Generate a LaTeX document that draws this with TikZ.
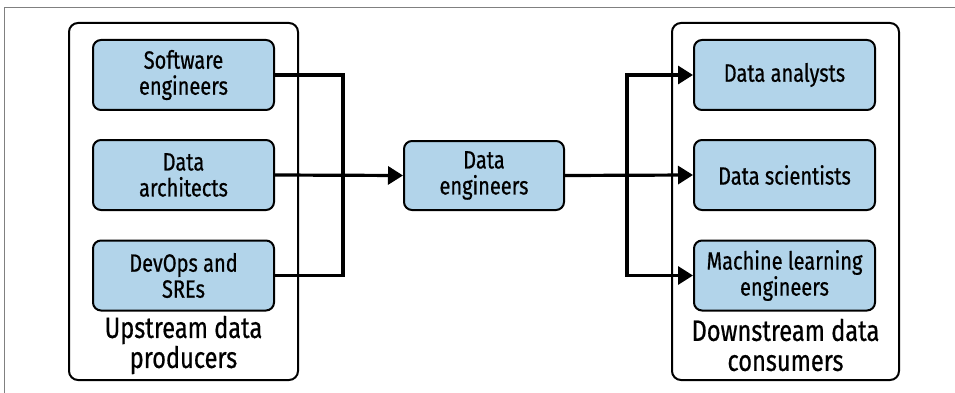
\documentclass[tikz,border=0pt]{standalone}
\usepackage{fontspec}
\setmainfont[FakeStretch=0.8, FakeBold=0.6]{Fira Sans}
\usetikzlibrary{arrows.meta}
\usetikzlibrary{shapes}
\definecolor{boxblue}{HTML}{B2D4EA}
\begin{document}
\begin{tikzpicture}[x = 1pt, y = -1pt, font=\rmfamily]
	\tikzstyle{groupStyle} = [shape = rectangle, draw, line width = 2pt, rounded corners = 9pt, minimum height = 357pt, inner sep = 0pt]
	\tikzstyle{roleStyle} = [shape = rectangle, draw, fill = boxblue, line width = 2pt, rounded corners = 8pt, minimum width = 181pt, minimum height = 70pt, align = center, inner sep = 0pt, font = \fontsize{25}{26}\selectfont]
	\tikzstyle{groupLabel} = [align = center, font = \fontsize{29.5}{30}\selectfont]
	\tikzstyle{flowStyle} = [line width = 3.2pt]
	\tikzstyle{arrowStyle} = [line width = 3.2pt, -{Triangle[length = 15pt, width = 18pt]}]
	\useasboundingbox (0,0) rectangle (955,393);
	\draw[gray, line width = 1pt] (4,393) -- (4,8) -- (955,8);
	\node[groupStyle, minimum width = 229pt] (up) at (183.5,201.5) {};
	\node[groupStyle, minimum width = 227pt] (down) at (785.5,201.5) {};
	\node[roleStyle] (p0) at (183.5,75) {Software\\engineers};
	\node[roleStyle] (p1) at (183.5,175) {Data\\architects};
	\node[roleStyle] (p2) at (183.5,275.5) {DevOps and\\SREs};
	\node[groupLabel] (upLabel) at (183.5,345) {Upstream data\\producers};
	\node[roleStyle, minimum width = 160pt, minimum height = 69pt] (de) at (484,175.5) {Data\\engineers};
	\node[roleStyle] (c0) at (784.5,75) {Data analysts};
	\node[roleStyle] (c1) at (784.5,175) {Data scientists};
	\node[roleStyle] (c2) at (784.5,275.5) {Machine learning\\engineers};
	\node[groupLabel] (downLabel) at (785.5,345) {Downstream data\\consumers};
	\coordinate (join) at (343,175);
	\coordinate (split) at (627,175);
	\draw[flowStyle] (p0.east) -| (join);
	\draw[flowStyle] (p2.east) -| (join);
	\draw[arrowStyle] (p1.east) -- (de.west);
	\draw[arrowStyle] (de.east) -- (c1.west);
	\draw[arrowStyle] (split) |- (c0.west);
	\draw[arrowStyle] (split) |- (c2.west);
\end{tikzpicture}
\end{document}
